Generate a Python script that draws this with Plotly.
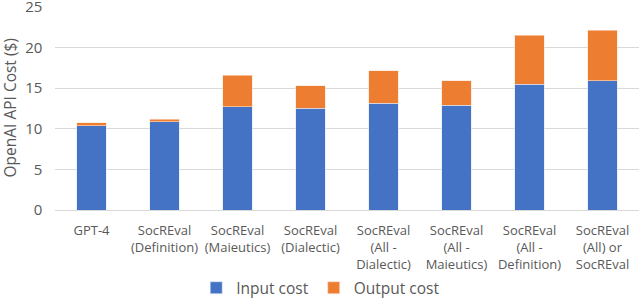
import plotly.graph_objects as go

categories = ["GPT-4", "SocREval<br>(Definition)", "SocREval<br>(Maieutics)", "SocREval<br>(Dialectic)",
              "SocREval<br>(All -<br>Dialectic)", "SocREval<br>(All -<br>Maieutics)",
              "SocREval<br>(All -<br>Definition)", "SocREval<br>(All) or<br>SocREval"]
input_cost = [10.4, 10.85, 12.73, 12.56, 13.13, 12.93, 15.5, 15.91]
output_cost = [0.37, 0.32, 3.87, 2.74, 4.0, 2.97, 6.04, 6.2]
y_title = "OpenAI API Cost ($)"

font_family = "Open Sans, Lato, sans-serif"
gray = "#595959"

fig = go.Figure()
fig.add_trace(go.Bar(x=categories, y=input_cost, name="Input cost",
                     marker=dict(color="#4472C4", line=dict(color="#dde6f5", width=0.6))))
fig.add_trace(go.Bar(x=categories, y=output_cost, name="Output cost",
                     marker=dict(color="#ED7D31", line=dict(color="#fbe3d3", width=0.6))))

fig.update_layout(
    barmode="stack",
    bargap=0.6,
    width=640, height=301,
    margin=dict(l=55, r=1, t=7, b=91, autoexpand=False),
    paper_bgcolor="white", plot_bgcolor="white",
    font=dict(family=font_family, color=gray, size=13),
    showlegend=True,
    legend=dict(orientation="h", x=0.455, xanchor="center", y=-0.385, yanchor="middle",
                font=dict(size=15.5, color=gray), itemwidth=30,
                traceorder="normal"),
    xaxis=dict(tickfont=dict(size=13, color=gray), showgrid=False, showline=False,
               ticks="", tickangle=0, automargin=False, ticklabelstandoff=11),
    yaxis=dict(range=[0, 25], dtick=5, showgrid=True, gridcolor="#d9d9d9", gridwidth=1,
               zeroline=True, zerolinecolor="#d9d9d9", zerolinewidth=1, automargin=False,
               ticks="", ticksuffix="\u00a0\u00a0\u00a0",
               tickfont=dict(size=15, color=gray),
               ticklabeloverflow="allow"),
    annotations=[dict(text=y_title, xref="paper", yref="paper", x=-(55 - 9) / 584, y=0.5,
                      xanchor="center", yanchor="middle", textangle=-90, showarrow=False,
                      font=dict(size=15.5, color=gray))],
)

fig.write_html("out.html", config={"displayModeBar": False},
               post_script="document.body.style.margin='0px';document.body.style.overflow='hidden';")
